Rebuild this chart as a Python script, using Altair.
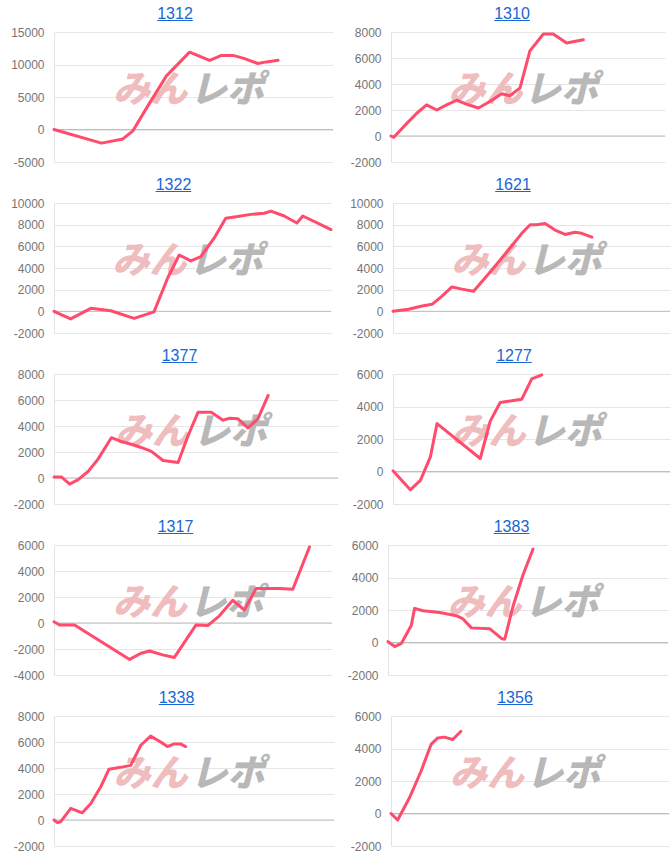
import altair as alt
import pandas as pd

LINE_COLOR = "#ff4b6c"
TITLE_COLOR = "#1a66d2"

# ---- data (x = position along the period in %, y = balance) ----
names = ["1312", "1310", "1322", "1621", "1377", "1277", "1317", "1383", "1338", "1356"]

x_1312 = [0, 17, 24.7, 28.3, 33.1, 40.3, 48.6, 55.8, 60, 64.2, 68.3, 73.1, 76.1, 80.3]
y_1312 = [0, -2100, -1450, -200, 3250, 8250, 11900, 10650, 11400, 11400, 10900, 10150, 10400, 10650]

x_1310 = [0, 1, 5.7, 9.4, 13, 16.7, 20.3, 24, 28.2, 31.9, 36.1, 40.4, 43.4, 47.1, 50.7, 55.6, 59.2, 64.1, 70.2]
y_1310 = [0, -100, 950, 1750, 2400, 2000, 2400, 2750, 2400, 2150, 2650, 3250, 3100, 3700, 6550, 7850, 7850, 7150, 7400]

x_1322 = [0, 6, 13.3, 20.5, 28.9, 36.1, 41, 45.2, 49.4, 53, 57.8, 62, 66.3, 71.1, 75.9, 78.3, 83.1, 87.7, 89.8, 95.2, 100]
y_1322 = [0, -700, 280, 50, -650, -50, 3050, 5200, 4650, 5050, 6750, 8600, 8750, 8950, 9050, 9250, 8800, 8150, 8800, 8150, 7550]

x_1621 = [0, 5.6, 10.5, 14.1, 17.7, 21.3, 24.9, 29.1, 33.3, 38.1, 42.9, 46.5, 49.5, 51.9, 54.9, 58.5, 62.1, 65.7, 68.1, 71.8]
y_1621 = [0, 200, 500, 650, 1400, 2250, 2050, 1850, 3100, 4550, 6050, 7200, 8000, 8000, 8100, 7500, 7100, 7300, 7200, 6850]

x_1377 = [0, 2.6, 5.5, 8.5, 12, 15.5, 20.2, 23.1, 27.2, 30.7, 34.3, 38.4, 43.7, 47.2, 50.7, 55.4, 59.5, 61.9, 64.8, 68.3, 71.8, 75.4]
y_1377 = [80, 80, -470, -120, 500, 1450, 3100, 2850, 2600, 2350, 2050, 1350, 1200, 3250, 5050, 5050, 4450, 4600, 4550, 3850, 4550, 6350]

x_1277 = [0, 6.25, 9.9, 13.5, 15.9, 31.5, 35.1, 38.7, 42.9, 46.5, 50.1, 53.7]
y_1277 = [40, -1130, -550, 900, 2950, 800, 3100, 4250, 4350, 4450, 5700, 5950]

x_1317 = [0, 2, 7.4, 27.2, 31.3, 34.4, 39.1, 43.3, 51.1, 55.3, 59.5, 64.3, 68.5, 72.7, 81.1, 85.9, 91.9]
y_1317 = [100, -150, -150, -2800, -2330, -2150, -2450, -2650, -150, -200, 550, 1750, 1000, 2650, 2650, 2600, 5850]

x_1383 = [0, 2.4, 4.8, 8.3, 9.5, 12.5, 18.5, 24.4, 26.8, 29.8, 36.3, 40.5, 41.7, 44.6, 48.2, 51.8]
y_1383 = [50, -250, -50, 1050, 2100, 1950, 1850, 1650, 1450, 900, 850, 250, 200, 2200, 4150, 5750]

x_1338 = [0, 1.2, 2.4, 6, 10.1, 13.1, 16.7, 19.6, 23.8, 27.4, 31, 34.5, 38.1, 40.5, 42.9, 45.2, 47]
y_1338 = [0, -200, -130, 900, 550, 1250, 2550, 3900, 4050, 4200, 5750, 6450, 6000, 5650, 5850, 5850, 5650]

x_1356 = [0, 2.4, 6.6, 10.8, 14.4, 16.8, 19.2, 22.2, 25.1]
y_1356 = [0, -400, 950, 2600, 4250, 4650, 4700, 4550, 5050]

# y-axis ranges [min, max, step]
y_ranges = {
    "1312": (-5000, 15000, 5000),
    "1310": (-2000, 8000, 2000),
    "1322": (-2000, 10000, 2000),
    "1621": (-2000, 10000, 2000),
    "1377": (-2000, 8000, 2000),
    "1277": (-2000, 6000, 2000),
    "1317": (-4000, 6000, 2000),
    "1383": (-2000, 6000, 2000),
    "1338": (-2000, 8000, 2000),
    "1356": (-2000, 6000, 2000),
}

series = {
    "1312": (x_1312, y_1312), "1310": (x_1310, y_1310),
    "1322": (x_1322, y_1322), "1621": (x_1621, y_1621),
    "1377": (x_1377, y_1377), "1277": (x_1277, y_1277),
    "1317": (x_1317, y_1317), "1383": (x_1383, y_1383),
    "1338": (x_1338, y_1338), "1356": (x_1356, y_1356),
}

# layout per row: (left axis extent, left width, right axis extent, right width)
rows_layout = [
    (54, 279, 54, 274),
    (50, 277, 51, 277),
    (49, 284, 51, 277),
    (48, 278, 45, 280),
    (47, 280, 47, 278),
]
# horizontal centre of each title on the page
title_centers = [175, 511, 169.5, 507, 174.5, 508, 169.5, 504.5, 169.5, 507]
PANEL_H = 130
TITLE_W = 35.6


def make_panel(name, ext, width, col_left, title_center):
    xs, ys = series[name]
    ymin, ymax, step = y_ranges[name]
    df = pd.DataFrame({"x": xs, "y": ys})
    xscale = alt.Scale(domain=[0, 100], nice=False, zero=False)
    yscale = alt.Scale(domain=[ymin, ymax], nice=False, zero=False)
    yaxis = alt.Axis(
        values=list(range(ymin, ymax + 1, step)), title=None, grid=True,
        gridColor="#e6e6e6", domain=True, domainColor="#e3e3e3", ticks=False,
        labelPadding=10, labelFont="Liberation Sans", labelFontSize=12,
        labelColor="#757575", minExtent=ext, maxExtent=ext,
        labelExpr="'' + datum.value",
    )
    dx = title_center - (col_left + ext + width / 2)
    wm1 = alt.Chart(pd.DataFrame({"t": ["みん"]})).mark_text(
        font="Noto Sans CJK JP", fontSize=37, fontWeight=900, fontStyle="italic",
        color="#efbdbd",
    ).encode(text="t:N", x=alt.value(width * 0.345), y=alt.value(PANEL_H * 0.45))
    wm2 = alt.Chart(pd.DataFrame({"t": ["レポ"]})).mark_text(
        font="Noto Sans CJK JP", fontSize=37, fontWeight=900, fontStyle="italic",
        color="#b8b8b8",
    ).encode(text="t:N", x=alt.value(width * 0.62), y=alt.value(PANEL_H * 0.45))
    zero = alt.Chart(pd.DataFrame({"y": [0]})).mark_rule(color="#bfbfbf", strokeWidth=1).encode(
        y=alt.Y("y:Q", scale=yscale, axis=yaxis)
    )
    uline = alt.Chart(pd.DataFrame({"u": [0]})).mark_rule(color=TITLE_COLOR, strokeWidth=1).encode(
        x=alt.value(width / 2 + dx - TITLE_W / 2),
        x2=alt.value(width / 2 + dx + TITLE_W / 2),
        y=alt.value(-11.5),
    )
    line = alt.Chart(df).mark_line(
        color=LINE_COLOR, strokeWidth=3, strokeCap="round", strokeJoin="round"
    ).encode(
        x=alt.X("x:Q", scale=xscale, axis=None),
        y=alt.Y("y:Q", scale=yscale, axis=yaxis),
    )
    return alt.layer(zero, wm1, wm2, line, uline).properties(
        width=width, height=PANEL_H,
        title=alt.TitleParams(
            text=name, font="Liberation Sans", fontSize=16, dx=dx,
            fontWeight="normal", color=TITLE_COLOR, anchor="middle", offset=-2,
        ),
    )


rows = []
for r, (eL, wL, eR, wR) in enumerate(rows_layout):
    left = make_panel(names[2 * r], eL, wL, 0, title_centers[2 * r])
    right = make_panel(names[2 * r + 1], eR, wR, 336, title_centers[2 * r + 1])
    rows.append(alt.hconcat(left, right, spacing=336 - eL - wL))

chart = alt.vconcat(*rows, spacing=9).properties(
    padding={"left": 0, "top": 6, "right": 0, "bottom": 0},
    background="white",
).configure_view(stroke=None)

chart.save("out.html", embed_options={"renderer": "svg", "actions": False})
